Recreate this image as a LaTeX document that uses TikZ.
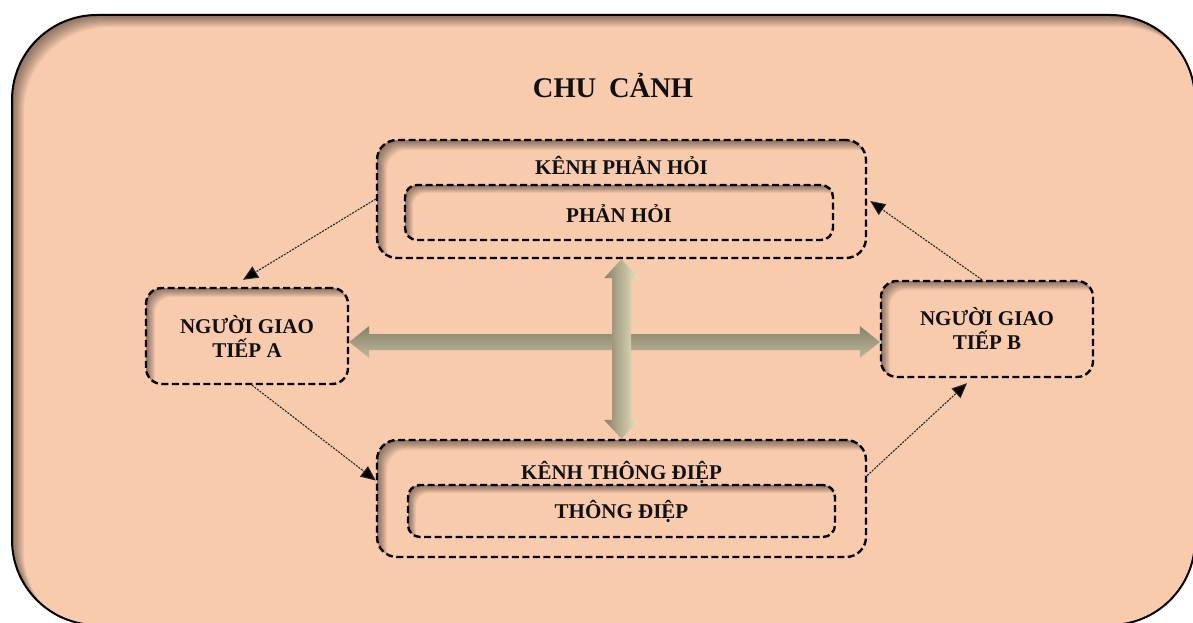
\documentclass[tikz,border=0pt]{standalone}
\usepackage{fontspec}
\setmainfont{Liberation Serif}
\usetikzlibrary{calc,arrows.meta}
\definecolor{peach}{HTML}{F8CBAD}
\definecolor{ink}{HTML}{101010}
\definecolor{armdark}{HTML}{858068}
\definecolor{armlight}{HTML}{EDE6C4}
\definecolor{wire}{HTML}{252525}

\tikzset{
  % soft shadow cast inward along the upper and left edges
  inshadow/.style 2 args={path picture={
    \foreach \k [evaluate=\k as \d using \k*#2/10] in {1,...,10}{
      \fill[black,opacity=0.05,even odd rule,rounded corners=#1]
        ([xshift=-200pt,yshift=200pt]path picture bounding box.north west)
          rectangle ([xshift=200pt,yshift=-200pt]path picture bounding box.south east)
        ([xshift=\d pt,yshift=-\d pt]path picture bounding box.north west)
          rectangle ([xshift=\d pt,yshift=-\d pt]path picture bounding box.south east);
    }}},
  ctxbox/.style={draw=black,line width=2pt,fill=peach,rounded corners=85pt,
    inner sep=0pt,inshadow={85pt}{12}},
  dashbox/.style={draw=black,line width=2.4pt,dash pattern=on 7pt off 3.5pt,
    inner sep=0pt,text=ink,font=\fontsize{21}{24}\selectfont\bfseries,align=center},
  chanbox/.style={dashbox,rounded corners=20pt,inshadow={20pt}{10}},
  msgbox/.style={dashbox,rounded corners=12pt,inshadow={12pt}{8}},
  partybox/.style={dashbox,rounded corners=16pt,inshadow={16pt}{9}},
  lbl/.style={text=ink,font=\fontsize{21}{24}\selectfont\bfseries,inner sep=0pt,anchor=base},
  title/.style={text=ink,font=\fontsize{28.5}{32}\selectfont\bfseries,inner sep=0pt,anchor=base},
  flow/.style={draw=wire,line width=1.1pt,dash pattern=on 2pt off 1.2pt,
    -{Triangle[length=15pt,width=13pt,fill=black]}},
  vshaft/.style={left color=armdark,right color=armlight},
  hshaft/.style={top color=armdark,bottom color=armlight!55!armdark},
}

\begin{document}
\begin{tikzpicture}[x=1pt,y=-1pt]
\useasboundingbox (0,0) rectangle (1193,623);

% context frame
\node[ctxbox,minimum width=1183pt,minimum height=610pt] (ctx) at (603.5,320) {};
\node[title] (ctxt) at (613,98) {CHU\hspace{0.2em} CẢNH};

% feedback channel
\node[chanbox,minimum width=489pt,minimum height=118pt] (P) at (621.5,199) {};
\node[lbl] (Pt) at (621.5,174) {KÊNH PHẢN HỎI};
\node[msgbox,minimum width=428pt,minimum height=55pt] (Pi) at (619,212.5) {};
\node[lbl] (Pit) at (619,222) {PHẢN HỎI};

% message channel
\node[chanbox,minimum width=489pt,minimum height=117pt] (T) at (621.5,498.5) {};
\node[lbl] (Tt) at (621.5,479) {KÊNH THÔNG ĐIỆP};
\node[msgbox,minimum width=427pt,minimum height=52pt] (Ti) at (621.5,511) {};
\node[lbl] (Tit) at (621.5,518) {THÔNG ĐIỆP};

% the two parties
\node[partybox,minimum width=202pt,minimum height=96pt] (A) at (247,336) {NGƯỜI GIAO\\TIẾP A};
\node[partybox,minimum width=212pt,minimum height=96pt] (B) at (987,329) {NGƯỜI GIAO\\TIẾP B};

% horizontal two-way arrow between the parties
\coordinate (hl) at ($(A.east)+(0,6)$);
\coordinate (hr) at ($(B.west)+(0,13)$);
\shade[hshaft] (hl) -- ++(20,-16) -- ++(0,8) -- ($(hr)+(-20,-8)$) -- ++(0,-8) -- (hr)
  -- ++(-20,16) -- ++(0,-8) -- ($(hl)+(20,8)$) -- ++(0,8) -- cycle;

% vertical two-way arrow between the channels
\shade[vshaft] (P.south) -- ++(17.5,19) -- ++(-8,0) -- ($(T.north)+(9.5,-19)$) -- ++(8,0)
  -- (T.north) -- ++(-17.5,-19) -- ++(8,0) -- ($(P.south)+(-9.5,19)$) -- ++(-8,0) -- cycle;

% flow of the exchange
\draw[flow] (P.west) -- ($(A.north)+(-4,-7)$);
\draw[flow] ($(A.south)+(5,0)$) -- ($(T.west)+(0,-18)$);
\draw[flow] ($(T.east)+(0,-23)$) -- ($(B.south)+(-20,5)$);
\draw[flow] ($(B.north)+(-5,0)$) -- ($(P.east)+(3,2)$);
\end{tikzpicture}
\end{document}
